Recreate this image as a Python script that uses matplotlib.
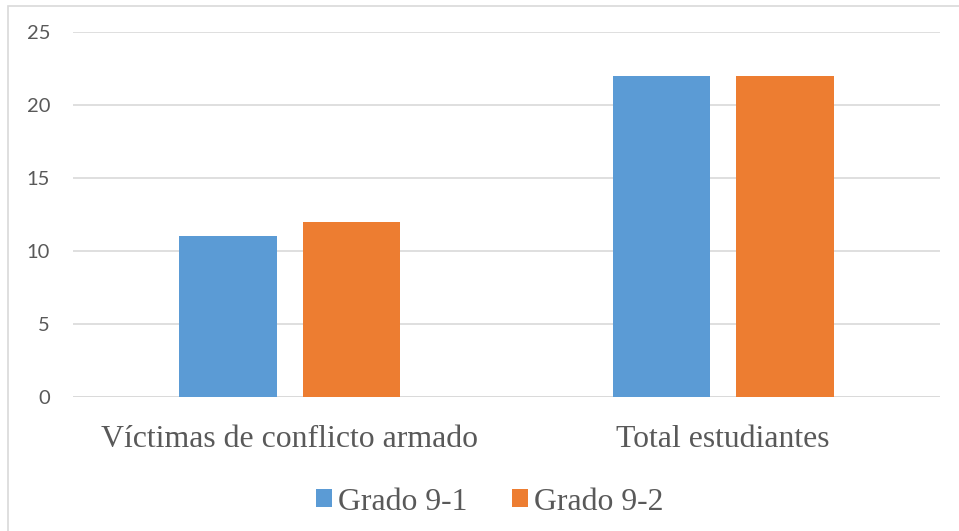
import matplotlib
matplotlib.use("Agg")
import matplotlib.pyplot as plt
from matplotlib.patches import Rectangle
import numpy as np

categories = ["Víctimas de conflicto armado", "Total estudiantes"]
series_names = ["Grado 9-1", "Grado 9-2"]
grado_91 = [11, 22]
grado_92 = [12, 22]
y_ticks = [0, 5, 10, 15, 20, 25]

colors = ["#5B9BD5", "#ED7D31"]
text_color = "#595959"
grid_color = "#D9D9D9"

fig = plt.figure(figsize=(9.59, 5.31), dpi=100)
fig.patches.append(Rectangle((8/959, -0.1), 1.2, 1 - 6/531 + 0.1,
                             transform=fig.transFigure, fill=False,
                             edgecolor=grid_color, linewidth=1.2))

ax = fig.add_axes([73/959, 1 - 397/531, (940 - 73)/959, (397 - 32)/531])
x = np.arange(len(categories))
w = 0.224
off = 0.1425
b1 = ax.bar(x - off, grado_91, w, color=colors[0], label=series_names[0], zorder=3)
b2 = ax.bar(x + off, grado_92, w, color=colors[1], label=series_names[1], zorder=3)

ax.set_xlim(-0.5, 1.5)
ax.set_ylim(0, 25)
ax.set_yticks(y_ticks)
ax.set_yticklabels([str(t) for t in y_ticks], fontfamily="Lato", fontsize=14.5, color=text_color)
ax.set_xticks(x)
ax.set_xticklabels(categories, fontfamily="Liberation Serif", fontsize=22.9, color=text_color)
ax.tick_params(axis="both", length=0)
ax.tick_params(axis="y", pad=16.5)
ax.tick_params(axis="x", pad=20)
ax.grid(axis="y", color=grid_color, linewidth=1.2, zorder=0)
for s in ax.spines.values():
    s.set_visible(False)
ax.axhline(0, color=grid_color, linewidth=1.2, zorder=2)

leg = fig.legend(handles=[b1, b2], labels=series_names, loc="center",
                 bbox_to_anchor=(490/959, 1 - 502/531), ncol=2, frameon=False,
                 prop={"family": "Liberation Serif", "size": 22.9},
                 handlelength=0.5, handleheight=0.5, handletextpad=0.2,
                 columnspacing=1.4)
for t in leg.get_texts():
    t.set_color(text_color)

fig.savefig("out.png", dpi=100)
